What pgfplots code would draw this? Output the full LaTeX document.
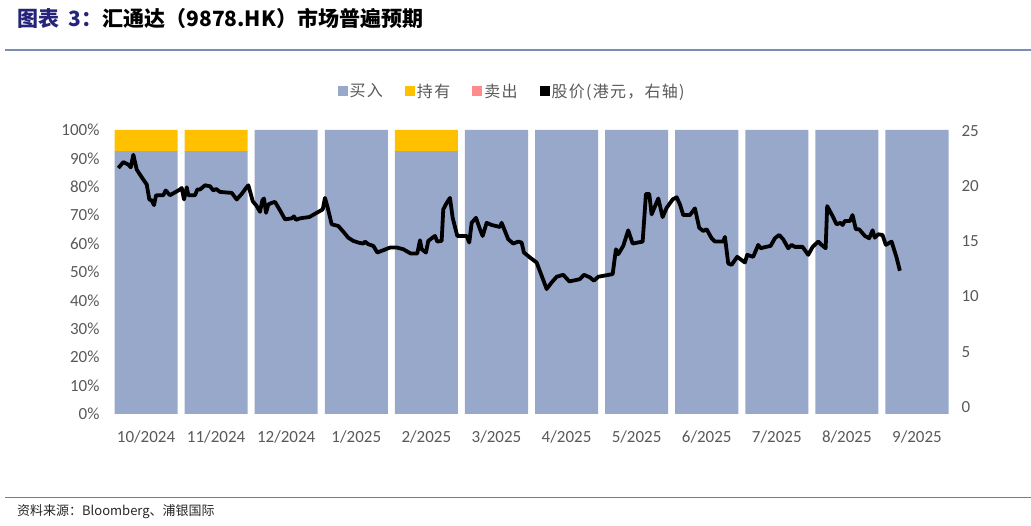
\documentclass[border=0pt]{standalone}
\usepackage{fontspec}
\setmainfont{Carlito}
\newfontfamily\cjk{Noto Sans CJK SC}
\usepackage{pgfplots}
\pgfplotsset{compat=1.18}

\definecolor{buycol}{HTML}{98A8CA}
\definecolor{holdcol}{HTML}{FFC000}
\definecolor{sellcol}{HTML}{FF8B8B}
\definecolor{labgray}{HTML}{595959}
\definecolor{navy}{HTML}{25247A}
\definecolor{rulecol}{HTML}{7D8CB6}

\begin{document}
\begin{tikzpicture}
\path[use as bounding box] (0,0) rectangle (1031pt,525pt);

% title and rules
\node[anchor=west, inner sep=0pt, font=\fontsize{21}{21}\selectfont\cjk\bfseries]
  at (17pt,507pt) {\textcolor{navy}{图表\hspace{0.45em}3：}汇通达（9878.HK）市场普遍预期};
\draw[rulecol, line width=1.5pt] (5pt,475pt) -- (1031pt,475pt);
\draw[rulecol!80!violet, line width=1pt] (5pt,28pt) -- (1031pt,28pt);
\node[anchor=west, inner sep=0pt, font=\fontsize{13}{13}\selectfont\cjk, text=black!85]
  at (17pt,13pt) {资料来源：Bloomberg、浦银国际};

% ratings, left axis
\begin{axis}[
    at={(111pt,111pt)}, anchor=south west,
    scale only axis, width=841pt, height=284pt,
    ybar stacked, bar width=0.9,
    xmin=-0.5, xmax=11.5, ymin=0, ymax=100,
    xtick={0,...,11},
    xticklabels={10/2024,11/2024,12/2024,1/2025,2/2025,3/2025,4/2025,5/2025,6/2025,7/2025,8/2025,9/2025},
    ytick={0,10,...,100},
    yticklabel={\pgfmathprintnumber{\tick}\%},
    /pgf/number format/assume math mode=true,
    axis line style={draw=none}, major tick length=0pt,
    tick label style={font=\fontsize{17}{17}\selectfont, text=labgray},
    xticklabel style={yshift=-13pt},
    yticklabel style={xshift=-8pt},
    legend columns=4,
    legend style={at={(0.477,1.137)}, anchor=center, draw=none, fill=none,
      font=\fontsize{16}{16}\selectfont\cjk\addfontfeature{LetterSpace=8}, text=labgray,
      /tikz/every even column/.append style={column sep=20pt}},
    legend image code/.code={\path[#1] (0pt,-5pt) rectangle (10pt,5pt);},
]
\addplot[fill=buycol, draw=none, forget plot] coordinates {
  (0,92.6) (1,92.6) (2,100) (3,100) (4,92.6) (5,100)
  (6,100) (7,100) (8,100) (9,100) (10,100) (11,100)};
\addplot[fill=holdcol, draw=none, forget plot] coordinates {
  (0,7.4) (1,7.4) (2,0) (3,0) (4,7.4) (5,0)
  (6,0) (7,0) (8,0) (9,0) (10,0) (11,0)};
\addlegendimage{fill=buycol, draw=none}
\addlegendentry{买入}
\addlegendimage{fill=holdcol, draw=none}
\addlegendentry{持有}
\addlegendimage{fill=sellcol, draw=none}
\addlegendentry{卖出}
\addlegendimage{fill=black, draw=none}
\addlegendentry{股价(港元，右轴)}
\end{axis}

% share price, right axis
\begin{axis}[
    at={(111pt,111pt)}, anchor=south west,
    scale only axis, width=841pt, height=284pt,
    xmin=-0.5, xmax=11.5, ymin=-0.63, ymax=25.05,
    axis x line=none, axis y line*=right,
    ytick={0,5,...,25},
    /pgf/number format/assume math mode=true,
    axis line style={draw=none}, major tick length=0pt,
    tick label style={font=\fontsize{17}{17}\selectfont, text=labgray},
    yticklabel style={xshift=6pt},
]
\addplot[black, line width=3.8pt, line join=round, mark=none] coordinates {
(-0.395,21.61) (-0.324,22.15) (-0.252,21.92) (-0.218,21.67) (-0.181,22.81)
(-0.133,21.47) (-0.061,20.77) (0.010,20.12) (0.047,18.77) (0.081,18.68)
(0.114,18.26) (0.143,19.15) (0.247,19.15) (0.281,19.58) (0.342,19.15)
(0.399,19.36) (0.485,19.67) (0.509,19.81) (0.542,18.77) (0.581,19.87)
(0.603,19.15) (0.699,19.15) (0.732,19.67) (0.770,19.67) (0.842,20.05)
(0.913,19.96) (0.960,19.58) (0.999,19.72) (1.056,19.45) (1.223,19.36)
(1.294,18.77) (1.365,19.27) (1.427,19.81) (1.459,20.05) (1.494,19.27)
(1.522,18.62) (1.579,18.17) (1.626,17.65) (1.659,18.68) (1.683,18.86)
(1.712,17.56) (1.745,18.32) (1.793,18.46) (1.840,18.55) (1.912,17.78)
(1.983,16.97) (2.078,17.06) (2.111,17.24) (2.140,16.93) (2.197,17.06)
(2.330,17.18) (2.411,17.47) (2.521,17.87) (2.553,18.91) (2.586,18.17)
(2.649,16.52) (2.743,16.37) (2.806,15.92) (2.886,15.31) (2.957,15.02)
(3.029,14.87) (3.100,14.78) (3.124,14.96) (3.171,14.72) (3.243,14.57)
(3.300,13.97) (3.385,14.18) (3.481,14.42) (3.576,14.42) (3.670,14.27)
(3.776,13.88) (3.870,13.88) (3.909,15.08) (3.933,14.27) (3.994,13.97)
(4.027,15.02) (4.076,15.26) (4.123,15.47) (4.155,14.96) (4.218,15.02)
(4.241,17.87) (4.290,18.46) (4.337,18.91) (4.375,17.11) (4.441,15.47)
(4.575,15.47) (4.612,14.87) (4.646,16.66) (4.708,17.11) (4.765,16.07)
(4.803,15.47) (4.860,16.66) (4.932,16.46) (5.050,16.28) (5.074,16.66)
(5.168,15.17) (5.240,14.78) (5.311,14.96) (5.359,14.87) (5.392,13.97)
(5.478,13.52) (5.573,13.07) (5.645,11.87) (5.716,10.67) (5.788,11.27)
(5.859,11.78) (5.953,11.96) (6.039,11.36) (6.134,11.48) (6.191,11.57)
(6.248,11.96) (6.334,11.72) (6.391,11.42) (6.452,11.78) (6.658,12.02)
(6.705,14.27) (6.738,13.82) (6.809,14.57) (6.880,15.98) (6.943,14.78)
(7.086,14.96) (7.133,19.27) (7.180,19.27) (7.214,17.42) (7.309,18.86)
(7.371,17.18) (7.428,18.01) (7.514,18.77) (7.571,18.97) (7.618,18.32)
(7.665,17.36) (7.760,17.36) (7.832,17.96) (7.893,16.21) (7.950,15.92)
(7.999,16.07) (8.070,15.26) (8.117,14.96) (8.235,14.96) (8.260,15.38)
(8.307,12.98) (8.355,12.86) (8.435,13.58) (8.545,13.07) (8.578,13.76)
(8.663,13.58) (8.735,14.66) (8.769,14.36) (8.845,14.48) (8.912,14.57)
(8.973,15.26) (9.034,15.56) (9.091,15.17) (9.163,14.36) (9.211,14.66)
(9.258,14.48) (9.368,14.48) (9.448,13.76) (9.511,14.48) (9.591,14.96)
(9.639,14.66) (9.697,14.36) (9.719,18.17) (9.796,17.27) (9.853,16.52)
(9.910,16.66) (9.939,16.46) (9.971,16.82) (10.043,16.82) (10.081,17.36)
(10.128,16.07) (10.175,16.07) (10.257,15.47) (10.318,15.26) (10.367,15.98)
(10.399,15.31) (10.446,15.62) (10.509,15.56) (10.556,14.66) (10.638,14.96)
(10.709,13.52) (10.756,12.32)
};
\end{axis}
\end{tikzpicture}
\end{document}
